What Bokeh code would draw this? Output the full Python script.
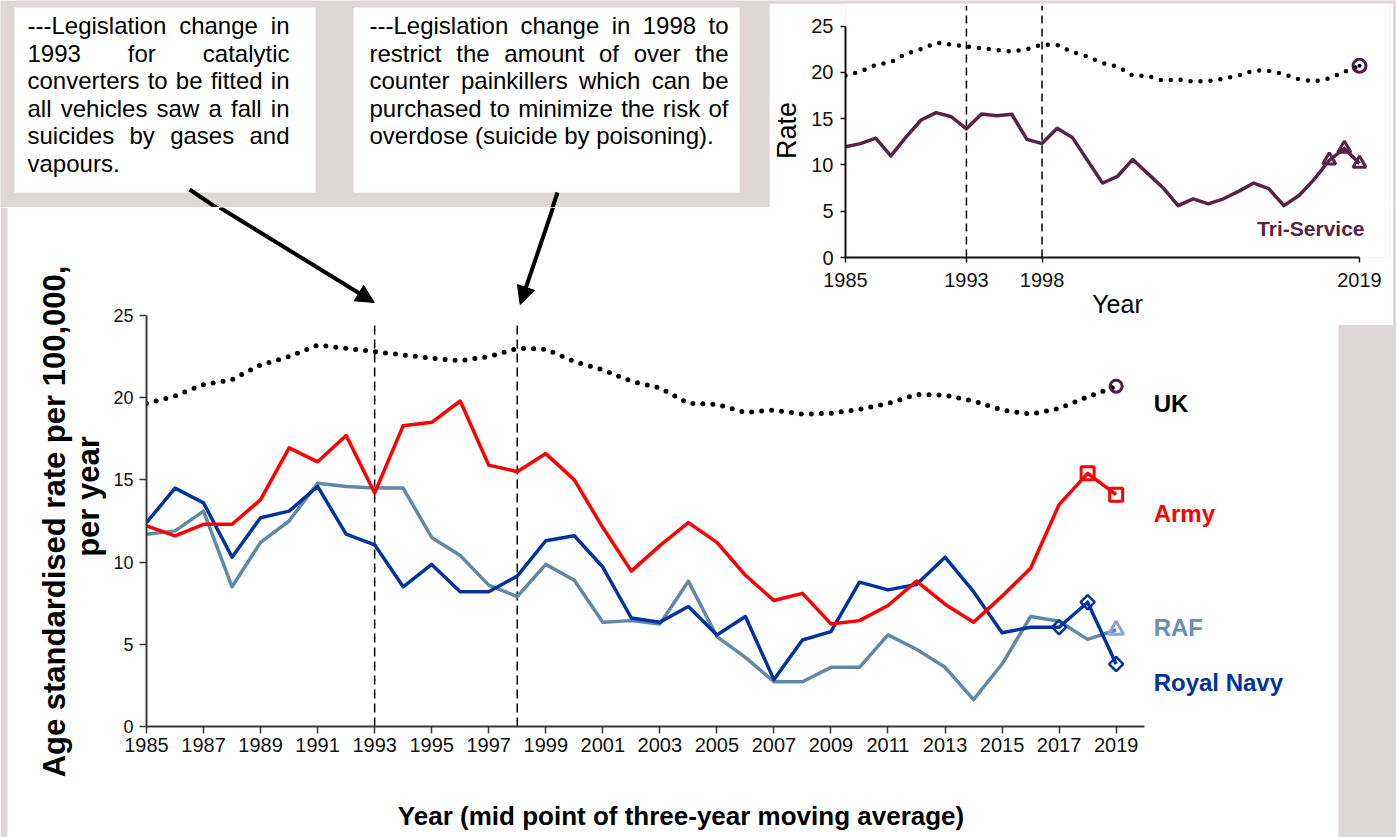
from bokeh.plotting import figure
from bokeh.models import Range1d, FixedTicker, Label, Arrow, NormalHead, ColumnDataSource
from bokeh.layouts import column, row
from bokeh.embed import file_html
from bokeh.resources import INLINE
from bokeh.core.properties import value
import math

# ---------------- data ----------------
YEARS = list(range(1985, 2020))
UK = [19.65, 20.1, 20.8, 21.1, 22.0, 22.5, 23.2, 23.0, 22.8, 22.6, 22.4, 22.25, 22.5, 23.0, 22.95,
      22.2, 21.7, 21.0, 20.6, 19.65, 19.6, 19.1, 19.25, 19.0, 19.05, 19.3, 19.65, 20.2, 20.15,
      19.8, 19.25, 19.0, 19.35, 20.05, 20.7]
ARMY = [12.2, 11.6, 12.3, 12.3, 13.8, 16.95, 16.1, 17.7, 14.2, 18.3, 18.5, 19.8, 15.9, 15.5, 16.6,
        15.0, 12.1, 9.45, 11.0, 12.4, 11.2, 9.2, 7.66, 8.1, 6.24, 6.44, 7.36, 8.84, 7.44,
        6.34, 7.93, 9.63, 13.5, 15.4, 14.1]
RAF = [11.7, 11.9, 13.1, 8.5, 11.2, 12.5, 14.8, 14.6, 14.5, 14.5, 11.5, 10.4, 8.6, 7.9, 9.86,
       8.9, 6.34, 6.44, 6.24, 8.84, 5.47, 4.2, 2.72, 2.72, 3.6, 3.6, 5.57, 4.7, 3.6,
       1.63, 3.8, 6.69, 6.4, 5.3, 5.87]
NAVY = [12.4, 14.5, 13.6, 10.3, 12.7, 13.1, 14.6, 11.7, 11.05, 8.5, 9.86, 8.2, 8.2, 9.15, 11.3,
        11.6, 9.7, 6.6, 6.34, 7.3, 5.57, 6.69, 2.85, 5.26, 5.77, 8.78, 8.31, 8.64, 10.3,
        8.2, 5.7, 6.04, 6.04, 7.56, 3.8]
TRI = [11.96, 12.3, 12.9, 10.98, 13.0, 14.85, 15.65, 15.2, 13.9, 15.5, 15.3, 15.47, 12.75, 12.3, 13.95,
       12.97, 10.5, 8.04, 8.77, 10.58, 9.06, 7.54, 5.6, 6.34, 5.8, 6.34, 7.14, 8.04, 7.43,
       5.6, 6.7, 8.44, 10.5, 11.78, 10.14]

LEGISLATION_YEARS = [1993, 1998]
MAIN_XTICKS = list(range(1985, 2020, 2))
INSET_XTICKS = [1985, 1993, 1998, 2019]
YTICKS = [0, 5, 10, 15, 20, 25]

BOX1_LINES = ["---Legislation change in",
              "1993 for catalytic",
              "converters to be fitted in",
              "all vehicles saw a fall in",
              "suicides by gases and",
              "vapours."]
BOX2_LINES = ["---Legislation change in 1998 to",
              "restrict the amount of over the",
              "counter painkillers which can be",
              "purchased to minimize the risk of",
              "overdose (suicide by poisoning)."]
YTITLE = ["Age standardised rate per 100,000,", "per year"]
XTITLE = "Year (mid point of three-year moving average)"

# ---------------- style ----------------
GREY = "#DED6D7"
FONT = "Liberation Sans"
C_ARMY = "#FF0000"
C_NAVY = "#0033A0"
C_RAF = "#5E89A9"
C_RAF_LABEL = "#6B8FB2"
C_RAF_MARK = "#8EA4CC"
C_TRI = "#5A2244"
C_UKMARK = "#4A2040"

# Arial / Liberation Sans advance widths (per 1000 em)
W = {' ': 278, '-': 333, '.': 278, ',': 278, '(': 333, ')': 333, 'L': 556,
     'a': 556, 'b': 556, 'c': 500, 'd': 556, 'e': 556, 'f': 278, 'g': 556, 'h': 556,
     'i': 222, 'j': 222, 'k': 500, 'l': 222, 'm': 833, 'n': 556, 'o': 556, 'p': 556,
     'q': 556, 'r': 333, 's': 500, 't': 278, 'u': 556, 'v': 500, 'w': 722, 'x': 500,
     'y': 500, 'z': 500}


def justify(lines, x0, x1, y0, dy, size):
    xs, ys, ts = [], [], []
    for i, line in enumerate(lines):
        words = line.split()
        ws = [sum(W.get(c, 556) for c in w) * size / 1000 for w in words]
        last = i == len(lines) - 1
        if len(words) > 1 and not last:
            gap = (x1 - x0 - sum(ws)) / (len(words) - 1)
        else:
            gap = W[' '] * size / 1000
        x = x0
        for w, wd in zip(words, ws):
            xs.append(x)
            ys.append(y0 + i * dy)
            ts.append(w)
            x += wd + gap
    return xs, ys, ts


def blank(width, height, xr, yr, bg):
    f = figure(width=width, height=height, x_range=xr, y_range=yr,
               x_axis_type=None, y_axis_type=None, toolbar_location=None,
               output_backend="svg", min_border=0, outline_line_color=None,
               background_fill_color=bg, border_fill_color=bg)
    return f


# ---------------- top strip (text boxes) ----------------
top = blank(1396, 207, Range1d(0, 1396), Range1d(207, 0), GREY)
top.quad(left=[14, 353], right=[315, 739], top=[7, 7], bottom=[192, 192],
         fill_color="white", line_color=None)
bx, by, bt = justify(BOX1_LINES, 27, 289, 25, 27.5, 24)
cx, cy, ct = justify(BOX2_LINES, 369, 728, 25, 27.5, 24)
words = ColumnDataSource(dict(x=bx + cx, y=by + cy, t=bt + ct))
top.text(x="x", y="y", text="t", source=words, text_font=value(FONT),
         text_font_size="24px", text_color="#000000", text_align="left",
         text_baseline="middle")
# upper parts of the two arrows
top.segment(x0=[189, 557], y0=[189, 192], x1=[220.2, 551.0], y1=[210, 210],
            line_color="black", line_width=4)

# ---------------- y title strip ----------------
LEFT_W = 110
left = blank(LEFT_W, 630, Range1d(0, LEFT_W), Range1d(837, 207), "white")
left.quad(left=[0], right=[7], top=[207], bottom=[837], fill_color=GREY, line_color=None)
left.text(x=[54, 88], y=[521, 496], text=YTITLE, angle=math.pi / 2,
          text_font=value(FONT), text_font_size="31px", text_font_style="bold",
          text_color="#000000", text_align="center", text_baseline="middle")

# ---------------- main chart ----------------
PX_YR = 999 / 35
PX_UNIT = 411 / 25
MAIN_W = 1338 - LEFT_W
main = figure(width=MAIN_W, height=583,
              x_range=Range1d(1985, 1985 + 1193 / PX_YR), y_range=Range1d(0, 519 / PX_UNIT),
              toolbar_location=None, output_backend="svg",
              min_border_left=145 - LEFT_W, min_border_right=0, min_border_top=0,
              min_border_bottom=64,
              outline_line_color=None, background_fill_color="white", border_fill_color="white")
main.grid.visible = False

xa = main.xaxis[0]
xa.ticker = FixedTicker(ticks=MAIN_XTICKS)
xa.bounds = (1985, 2020)
ya = main.yaxis[0]
ya.ticker = FixedTicker(ticks=YTICKS)
ya.bounds = (0, 25)
for ax in (xa, ya):
    ax.minor_tick_line_color = None
    ax.major_tick_in = 0
    ax.major_tick_out = 7
    ax.axis_line_width = 2
    ax.axis_line_color = "#3a3a3a"
    ax.major_tick_line_color = "#3a3a3a"
    ax.major_tick_line_width = 1.5
    ax.major_label_text_font = FONT
    ax.major_label_text_color = "#111111"
xa.major_label_text_font_size = "20px"
xa.major_label_standoff = 4
ya.major_label_text_font_size = "18px"
ya.major_label_standoff = 6

src = ColumnDataSource(dict(year=YEARS, uk=UK, army=ARMY, raf=RAF, navy=NAVY, tri=TRI))

main.segment(x0=LEGISLATION_YEARS, y0=0, x1=LEGISLATION_YEARS, y1=24.6,
             line_color="black", line_width=1.5, line_dash="9 5")
main.line("year", "uk", source=src, line_color="black", line_width=5,
          line_dash="0 10", line_cap="round")
main.line("year", "raf", source=src, line_color=C_RAF, line_width=3.5, line_join="round")
main.line("year", "navy", source=src, line_color=C_NAVY, line_width=3.5, line_join="round")
main.line("year", "army", source=src, line_color=C_ARMY, line_width=3.5, line_join="round")

main.scatter(YEARS[-2:], ARMY[-2:], marker="square", size=13, fill_color=None,
             line_color=C_ARMY, line_width=3)
main.scatter(YEARS[-3:], NAVY[-3:], marker="square", angle=math.pi / 4, size=10,
             fill_color=None, line_color=C_NAVY, line_width=2.5)
main.scatter(YEARS[-1:], RAF[-1:], marker="triangle", size=15, fill_color=None,
             line_color=C_RAF_MARK, line_width=3)
main.scatter(YEARS[-1:], UK[-1:], marker="circle", size=12, fill_color=None,
             line_color=C_UKMARK, line_width=3)


def mx(px):
    return 1985 + (px - 145) / PX_YR


def my(py):
    return (726 - py) / PX_UNIT


for txt, py, col in [("UK", 403, "#000000"), ("Army", 513, C_ARMY),
                     ("RAF", 627, C_RAF_LABEL), ("Royal Navy", 682, C_NAVY)]:
    main.add_layout(Label(x=mx(1153), y=my(py), text=txt, text_font=FONT,
                          text_font_size="24px", text_font_style="bold", text_color=col,
                          text_align="left", text_baseline="middle"))

for (sx, sy, ex, ey) in [(218.3, 207, 373, 302), (551.9, 207, 519, 304)]:
    main.add_layout(Arrow(end=NormalHead(size=18, fill_color="black", line_color="black",
                                         line_width=1),
                          x_start=mx(sx), y_start=my(sy), x_end=mx(ex), y_end=my(ey),
                          line_color="black", line_width=4))

bottom = figure(width=MAIN_W, height=47, x_range=Range1d(145, 1338), y_range=Range1d(837, 790),
                x_axis_type=None, y_axis_type=None, toolbar_location=None,
                output_backend="svg", min_border_left=145 - LEFT_W, min_border_right=0,
                min_border_top=0, min_border_bottom=0, outline_line_color=None,
                background_fill_color="white", border_fill_color="white")
bottom.text(x=[680], y=[815], text=[XTITLE], text_font=value(FONT), text_font_size="26px",
            text_font_style="bold", text_color="#000000", text_align="center",
            text_baseline="middle")

right = blank(58, 630, Range1d(0, 1), Range1d(0, 1), GREY)

# ---------------- inset (Tri-Service) ----------------
I_PX_YR = 514 / 34
I_PX_UNIT = 231.5 / 25
ins = figure(width=624, height=322,
             x_range=Range1d(1985, 1985 + 544 / I_PX_YR), y_range=Range1d(0, 254 / I_PX_UNIT),
             toolbar_location=None, output_backend="svg",
             min_border_left=76, min_border_right=4, min_border_top=0, min_border_bottom=68,
             outline_line_color=None, background_fill_color="white", border_fill_color="white")
ins.grid.visible = False
ixa = ins.xaxis[0]
ixa.ticker = FixedTicker(ticks=INSET_XTICKS)
ixa.bounds = (1985, 2019)
iya = ins.yaxis[0]
iya.ticker = FixedTicker(ticks=YTICKS)
iya.bounds = (0, 25)
for ax in (ixa, iya):
    ax.minor_tick_line_color = None
    ax.major_tick_in = 0
    ax.major_tick_out = 5
    ax.axis_line_width = 2
    ax.axis_line_color = "#111111"
    ax.major_tick_line_color = "#111111"
    ax.major_tick_line_width = 1.5
    ax.major_label_text_font = FONT
    ax.major_label_text_font_size = "20px"
    ax.major_label_text_color = "#111111"
    ax.axis_label_text_font = FONT
    ax.axis_label_text_font_style = "normal"
    ax.axis_label_text_color = "#000000"
ixa.major_label_standoff = 10
ixa.axis_label = "Year"
ixa.axis_label_text_font_size = "25px"
ixa.axis_label_standoff = 0
iya.major_label_standoff = 7
iya.axis_label = "Rate"
iya.axis_label_text_font_size = "27px"
iya.axis_label_standoff = 6

ins.segment(x0=LEGISLATION_YEARS, y0=0, x1=LEGISLATION_YEARS, y1=27.2,
            line_color="black", line_width=1.5, line_dash="8 5")
ins.line("year", "uk", source=src, line_color="black", line_width=4.5,
         line_dash="0 10", line_cap="round")
ins.line("year", "tri", source=src, line_color=C_TRI, line_width=3.5, line_join="round")
ins.scatter(YEARS[-3:], TRI[-3:], marker="triangle", size=13, fill_color=None,
            line_color=C_TRI, line_width=3)
ins.scatter(YEARS[-1:], UK[-1:], marker="circle", size=13, fill_color=None,
            line_color=C_UKMARK, line_width=3)
ins.scatter(YEARS[-1:], UK[-1:], marker="circle", size=4, fill_color="black",
            line_color=None)
ins.add_layout(Label(x=2019 + 5 / I_PX_YR, y=(257.5 - 228) / I_PX_UNIT, text="Tri-Service",
                     text_font=FONT, text_font_size="21px", text_font_style="bold",
                     text_color=C_TRI, text_align="right", text_baseline="middle"))

inset_row = row(ins)
inset_row.margin = (-834, 0, 512, 769)

p = column(top, row(left, column(main, bottom), right), inset_row)
open("out.html", "w").write(file_html(p, INLINE))
